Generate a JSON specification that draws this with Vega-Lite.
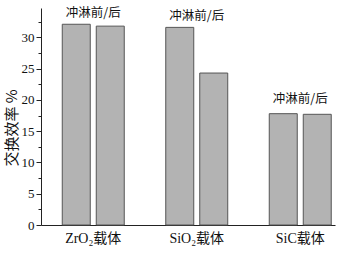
{
  "$schema": "https://vega.github.io/schema/vega-lite/v6.json",
  "width": 294,
  "height": 217,
  "autosize": {"type": "none"},
  "padding": {"left": 41, "top": 8, "right": 5, "bottom": 29},
  "background": "white",
  "config": {"view": {"stroke": null}},
  "datasets": {
    "bars": [
      {"g": "ZrO₂载体", "s": "前", "v": 32.1},
      {"g": "ZrO₂载体", "s": "后", "v": 31.8},
      {"g": "SiO₂载体", "s": "前", "v": 31.6},
      {"g": "SiO₂载体", "s": "后", "v": 24.3},
      {"g": "SiC载体", "s": "前", "v": 17.8},
      {"g": "SiC载体", "s": "后", "v": 17.7}
    ],
    "notes": [
      {"g": "ZrO₂载体", "t": "冲淋前/后", "y": 33.85},
      {"g": "SiO₂载体", "t": "冲淋前/后", "y": 33.45},
      {"g": "SiC载体", "t": "冲淋前/后", "y": 20.15}
    ]
  },
  "resolve": {"axis": {"y": "independent"}},
  "layer": [
    {
      "data": {"name": "bars"},
      "mark": {"type": "bar", "fill": "#b3b3b3", "stroke": "#555555", "strokeWidth": 1},
      "encoding": {
        "x": {
          "field": "g", "type": "nominal",
          "scale": {"domain": ["ZrO₂载体", "SiO₂载体", "SiC载体"], "paddingInner": 0.401, "paddingOuter": 0.1208, "align": 0.85},
          "axis": {"title": null, "labelAngle": 0, "ticks": false, "labelFont": "Liberation Serif, Noto Sans CJK SC", "labelFontSize": 14, "labelColor": "#111", "labelPadding": 6, "domainColor": "#222", "domainWidth": 1}
        },
        "xOffset": {"field": "s", "type": "nominal", "scale": {"domain": ["前", "后"], "paddingInner": 0.1765, "paddingOuter": 0}},
        "y": {
          "field": "v", "type": "quantitative",
          "scale": {"domain": [0, 34.7], "nice": false, "zero": true},
          "axis": {
            "values": [0, 5, 10, 15, 20, 25, 30], "grid": false,
            "title": "交换效率 %", "titleFont": "Noto Sans CJK SC", "titleFontSize": 15, "titleFontWeight": "normal", "titleColor": "#111",
            "titleAngle": -90, "titleX": -29.5, "titleY": 119.5, "titleAlign": "center", "titleBaseline": "middle",
            "labelFont": "Liberation Serif", "labelFontSize": 13, "labelColor": "#111", "labelPadding": 2,
            "tickSize": 5, "tickColor": "#222", "domainColor": "#222", "orient": "left"
          }
        }
      }
    },
    {
      "data": {"name": "notes"},
      "mark": {"type": "text", "font": "Noto Sans CJK SC", "fontSize": 12.5, "fontWeight": "normal", "color": "#111", "baseline": "middle", "align": "center"},
      "encoding": {
        "x": {"field": "g", "type": "nominal", "scale": {"domain": ["ZrO₂载体", "SiO₂载体", "SiC载体"]}},
        "y": {
          "field": "y", "type": "quantitative",
          "axis": {"orient": "left", "values": [2.5, 7.5, 12.5, 17.5, 22.5, 27.5, 32.5], "labels": false, "domain": false, "grid": false, "title": null, "tickSize": 3, "tickColor": "#222"}
        },
        "text": {"field": "t"}
      }
    }
  ]
}
